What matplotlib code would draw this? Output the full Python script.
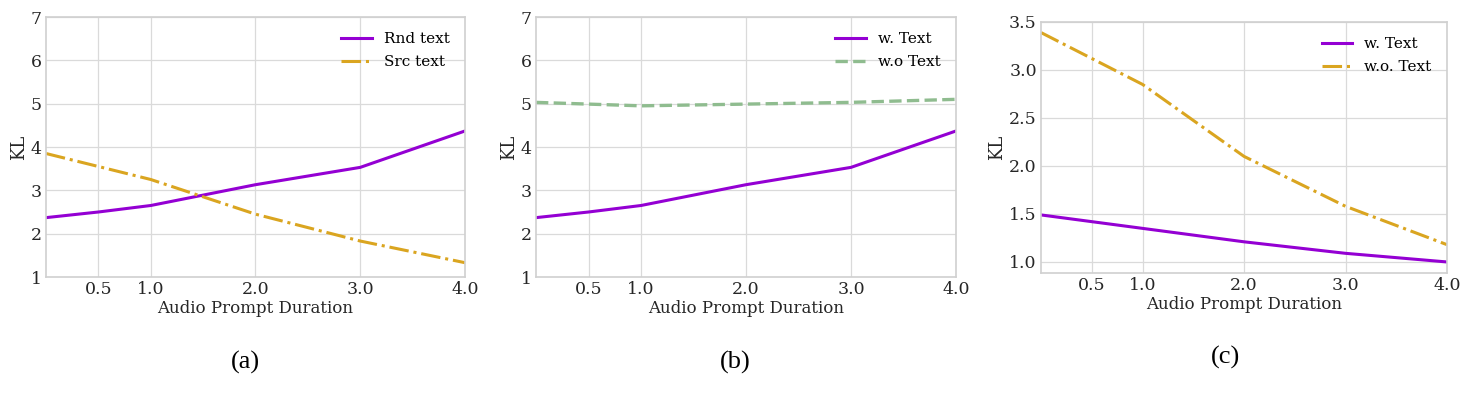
import matplotlib
matplotlib.use("Agg")
import matplotlib.pyplot as plt

# data
durations = [0.0, 0.5, 1.0, 2.0, 3.0, 4.0]
xticks = [0.5, 1.0, 2.0, 3.0, 4.0]

kl_rnd_text = [2.37, 2.50, 2.65, 3.13, 3.53, 4.37]
kl_src_text = [3.85, 3.55, 3.25, 2.45, 1.83, 1.33]

kl_w_text_b = [2.37, 2.50, 2.65, 3.13, 3.53, 4.37]
kl_wo_text_b = [5.03, 4.99, 4.95, 4.99, 5.03, 5.10]

kl_w_text_c = [1.49, 1.42, 1.35, 1.21, 1.09, 1.00]
kl_wo_text_c = [3.39, 3.12, 2.85, 2.10, 1.58, 1.18]

purple = "#9400d3"
gold = "#daa520"
green = "#8fbc8f"

plt.rcParams['font.family'] = 'DejaVu Serif'
font = {'size': 12, 'color': '#262626'}

W, H = 1473, 397
fig = plt.figure(figsize=(W / 100, H / 100), dpi=100)


def make_ax(l, r, t, b):
    return fig.add_axes([l / W, 1 - b / H, (r - l) / W, (b - t) / H])


def style(ax):
    ax.set_facecolor("white")
    ax.grid(True, color="#dadada", linewidth=0.9)
    ax.set_axisbelow(True)
    for s in ax.spines.values():
        s.set_color("#d0d0d0")
        s.set_linewidth(1.2)
    ax.tick_params(length=0, labelsize=12.5, labelcolor="#262626", pad=3)
    ax.set_xticks(xticks)
    ax.set_xticklabels(["0.5", "1.0", "2.0", "3.0", "4.0"])
    ax.set_xlim(0, 4)
    ax.set_xlabel("Audio Prompt Duration", fontdict=font, labelpad=1)
    ax.set_ylabel("KL", fontsize=13, color="#262626", labelpad=2)


def legend(ax):
    ax.legend(loc="upper right", frameon=False, fontsize=11, labelspacing=0.6,
              borderaxespad=0.6)


# (a)
ax1 = make_ax(46, 465, 17, 277)
ax1.plot(durations, kl_rnd_text, color=purple, linewidth=2.2, label="Rnd text")
ax1.plot(durations, kl_src_text, color=gold, linewidth=2.2, linestyle="-.", label="Src text")
ax1.set_ylim(1, 7)
style(ax1)
legend(ax1)

# (b)
ax2 = make_ax(536, 956, 17, 277)
ax2.plot(durations, kl_w_text_b, color=purple, linewidth=2.2, label="w. Text")
ax2.plot(durations, kl_wo_text_b, color=green, linewidth=2.4, linestyle="--", label="w.o Text")
ax2.set_ylim(1, 7)
style(ax2)
legend(ax2)

# (c)
ax3 = make_ax(1041, 1447, 22, 273)
ax3.plot(durations, kl_w_text_c, color=purple, linewidth=2.2, label="w. Text")
ax3.plot(durations, kl_wo_text_c, color=gold, linewidth=2.2, linestyle="-.", label="w.o. Text")
ax3.set_ylim(0.885, 3.5)
ax3.set_yticks([1.0, 1.5, 2.0, 2.5, 3.0, 3.5])
style(ax3)
legend(ax3)

# panel captions
for x, y, lab in [(245, 362, "(a)"), (735, 362, "(b)"), (1226, 357, "(c)")]:
    fig.text(x / W, 1 - y / H, lab, ha="center", va="center", fontsize=19,
             family="Liberation Serif", color="black")

plt.savefig("out.png", dpi=100)
